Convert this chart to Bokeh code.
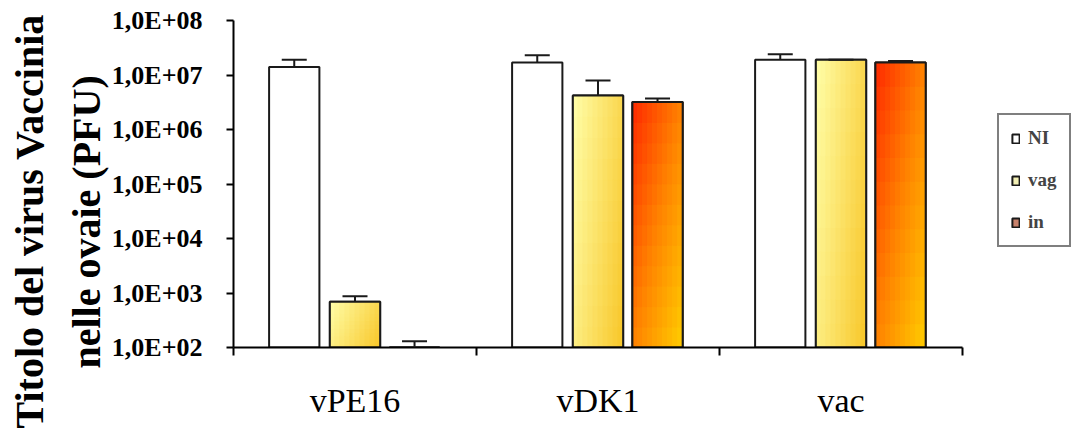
import numpy as np
from bokeh.plotting import figure
from bokeh.models import (ColumnDataSource, Range1d, FixedTicker, Whisker, TeeHead,
                          Legend, LegendItem, Title)
from bokeh.embed import file_html
from bokeh.resources import INLINE

# ---------------- data ----------------
categories = ["vPE16", "vDK1", "vac"]
series_names = ["NI", "vag", "in"]
ni_values = [1.4e7, 1.7e7, 1.9e7]
ni_err_top = [1.9e7, 2.3e7, 2.4e7]
vag_values = [6.9e2, 4.2e6, 1.9e7]
vag_err_top = [8.7e2, 7.9e6, 1.9e7]
in_values = [1.0e2, 3.2e6, 1.7e7]
in_err_top = [1.3e2, 3.7e6, 1.8e7]
y_ticks = [1e2, 1e3, 1e4, 1e5, 1e6, 1e7, 1e8]
y_tick_labels = ["1,0E+02", "1,0E+03", "1,0E+04", "1,0E+05", "1,0E+06", "1,0E+07", "1,0E+08"]
y_title_lines = ["Titolo del virus Vaccinia", "nelle ovaie (PFU)"]

# ---------------- style ----------------
BASE = 1e2
FONT = "Liberation Serif"
OFFSETS = [-0.25, 0.0, 0.245]
BAR_W = 0.207
OUTLINE = "#1a1a1a"
N_CAT = len(categories)
# frame spans 233..1077 px, category axis occupies 729 px of it
X_END = N_CAT * (1077 - 233) / 729

p = figure(width=1077, height=433, x_range=Range1d(0, X_END), y_range=Range1d(1e2, 1e8),
           y_axis_type="log", output_backend="svg", toolbar_location=None,
           min_border_left=233, min_border_right=0, min_border_top=20, min_border_bottom=86)
p.outline_line_color = None
p.xgrid.visible = False
p.ygrid.visible = False
p.background_fill_color = "white"
p.border_fill_color = "white"

centers = np.arange(N_CAT) + 0.5


def lerp(c0, c1, t):
    return tuple(int(round(a + (b - a) * t)) for a, b in zip(c0, c1))


def hexc(c):
    return "#%02x%02x%02x" % c


def vag_color(u, v):
    t = min(1.0, max(0.0, 0.7 * u + 0.3 * (1 - v)))
    return hexc(lerp((255, 255, 170), (248, 198, 40), t))


def in_color(u, v):
    t = min(1.0, max(0.0, 0.5 * u + 0.5 * (1 - v)))
    if t < 0.5:
        return hexc(lerp((255, 40, 0), (255, 130, 0), t / 0.5))
    return hexc(lerp((255, 130, 0), (255, 205, 0), (t - 0.5) / 0.5))


def gradient_cells(xc, vals, cfun, nx=10, ny=12):
    L, R, T, B, C = [], [], [], [], []
    for x, val in zip(xc, vals):
        lb, lt = np.log10(BASE), np.log10(val)
        for j in range(nx):
            for k in range(ny):
                l = x - BAR_W / 2 + j * BAR_W / nx
                L.append(l)
                R.append(l + BAR_W / nx)
                B.append(10 ** (lb + k * (lt - lb) / ny))
                T.append(10 ** (lb + (k + 1) * (lt - lb) / ny))
                C.append(cfun((j + 0.5) / nx, (k + 0.5) / ny))
    return dict(left=L, right=R, top=T, bottom=B, color=C)


legend_items = []
all_series = [
    ("NI", ni_values, ni_err_top, "white", None),
    ("vag", vag_values, vag_err_top, "#f2efb4", vag_color),
    ("in", in_values, in_err_top, "#c8826c", in_color),
]
for i, (name, vals, errs, solid, cfun) in enumerate(all_series):
    xc = centers + OFFSETS[i]
    src = ColumnDataSource(dict(x=list(xc), left=list(xc - BAR_W / 2), right=list(xc + BAR_W / 2),
                                top=vals, bottom=[BASE] * len(vals), err=errs))
    r = p.quad(left="left", right="right", top="top", bottom="bottom", source=src,
               fill_color=solid, line_color=OUTLINE, line_width=2)
    legend_items.append(LegendItem(label=name, renderers=[r]))
    if cfun is not None:
        cells = ColumnDataSource(gradient_cells(xc, vals, cfun))
        p.quad(left="left", right="right", top="top", bottom="bottom", source=cells,
               fill_color="color", line_color="color", line_width=1)
        p.quad(left="left", right="right", top="top", bottom="bottom", source=src,
               fill_alpha=0, line_color=OUTLINE, line_width=2)
    w = Whisker(base="x", lower="top", upper="err", source=src, line_color=OUTLINE, line_width=2,
                upper_head=TeeHead(size=25, line_color=OUTLINE, line_width=2), lower_head=None,
                level="annotation")
    p.add_layout(w)

# ---------------- axes ----------------
xa = p.xaxis[0]
xa.bounds = (0, N_CAT)
xa.ticker = FixedTicker(ticks=list(centers), minor_ticks=list(range(N_CAT + 1)))
xa.major_label_overrides = {float(c): lab for c, lab in zip(centers, categories)}
xa.major_tick_out = 0
xa.major_tick_in = 0
xa.minor_tick_out = 8
xa.minor_tick_in = 0
xa.minor_tick_line_color = "black"
xa.minor_tick_line_width = 2
xa.axis_line_color = "black"
xa.axis_line_width = 2
xa.major_label_standoff = 26
xa.major_label_text_font = FONT
xa.major_label_text_font_size = "34px"
xa.major_label_text_color = "black"

ya = p.yaxis[0]
ya.ticker = FixedTicker(ticks=y_ticks)
ya.major_label_overrides = {t: lab for t, lab in zip(y_ticks, y_tick_labels)}
ya.major_tick_out = 7
ya.major_tick_in = 0
ya.minor_tick_out = 0
ya.minor_tick_in = 0
ya.major_tick_line_color = "black"
ya.major_tick_line_width = 2
ya.axis_line_color = "black"
ya.axis_line_width = 2
ya.major_label_standoff = 24
ya.major_label_text_font = FONT
ya.major_label_text_font_style = "bold"
ya.major_label_text_font_size = "26px"
ya.major_label_text_color = "black"

# y-axis title: one two-line side title; second line indented so both look centred
title_text = y_title_lines[0] + "\n" + "\u00a0" * 6 + y_title_lines[1]
p.add_layout(Title(text=title_text, align="left", offset=-81, vertical_align="bottom",
                   standoff=0, text_line_height=1.25, text_font=FONT, text_font_style="bold",
                   text_font_size="40px", text_color="black"), "left")

legend = Legend(items=legend_items, location=(764, 100), orientation="vertical",
                border_line_color="black", border_line_width=2, background_fill_color="white",
                background_fill_alpha=1, padding=12, spacing=20, label_standoff=8,
                glyph_width=9, glyph_height=11, label_height=20, margin=0,
                label_text_font=FONT, label_text_font_style="bold", label_text_font_size="19px")
p.add_layout(legend)

open("out.html", "w").write(file_html(p, INLINE))
